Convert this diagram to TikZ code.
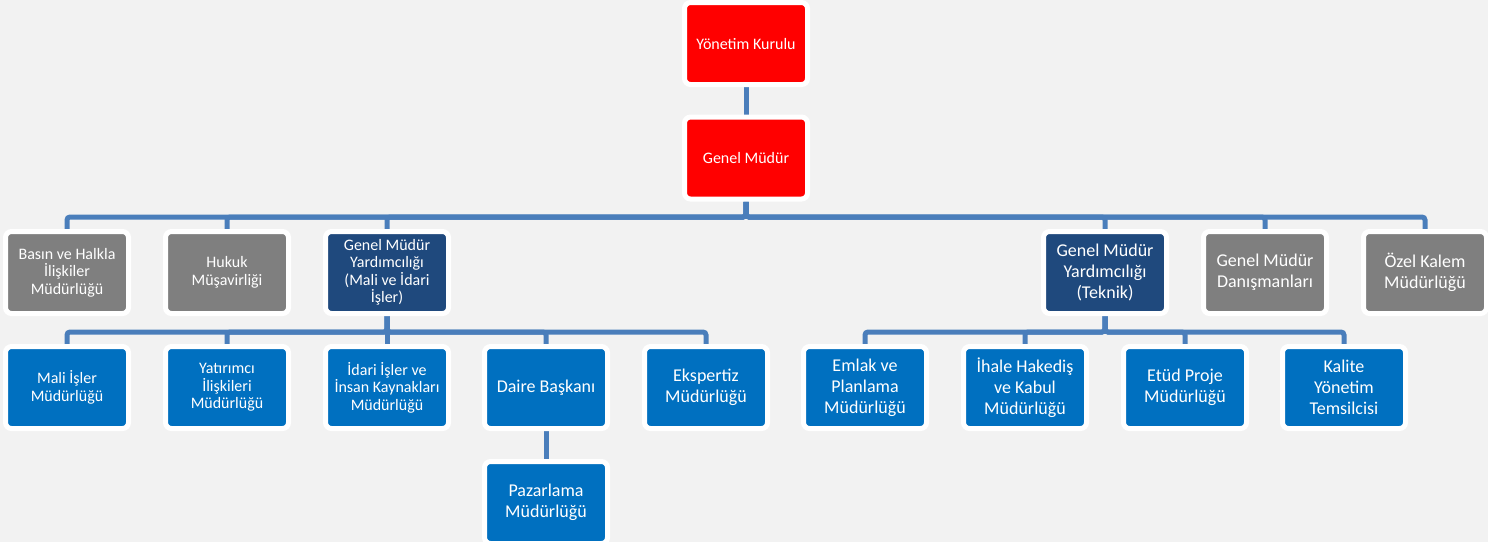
\documentclass[tikz,border=0pt]{standalone}
\usepackage{fontspec}
\setmainfont{Carlito}
\usetikzlibrary{backgrounds}
\definecolor{bgc}{HTML}{F2F2F2}
\definecolor{lineblue}{HTML}{4A7EBB}
\definecolor{redc}{HTML}{FF0000}
\definecolor{grayc}{HTML}{7F7F7F}
\definecolor{navyc}{HTML}{1F497D}
\definecolor{bluec}{HTML}{0070C0}
\begin{document}
\begin{tikzpicture}[x=1pt,y=-1pt,
  box/.style={draw=white,line width=5pt,rounded corners=6pt,minimum width=123pt,minimum height=82pt,inner sep=0pt,align=center,text=white,font=\fontsize{16}{17.5}\selectfont},
  big/.style={font=\fontsize{18}{20.8}\selectfont},
  redbox/.style={box,fill=redc},
  graybox/.style={box,fill=grayc},
  navybox/.style={box,fill=navyc},
  bluebox/.style={box,fill=bluec},
  conn/.style={draw=lineblue,line width=5pt,rounded corners=3pt}]
\useasboundingbox (0,0) rectangle (1488,542);
% top
\node[redbox,font=\fontsize{16}{18}\selectfont] (yk) at (746,43.5) {Yönetim Kurulu};
\node[redbox] (gm) at (746,158) {Genel Müdür};
% row 2
\node[graybox] (b1) at (67,272.5) {Basın ve Halkla\\İlişkiler\\Müdürlüğü};
\node[graybox] (b2) at (227,272.5) {Hukuk\\Müşavirliği};
\node[navybox] (b3) at (387,272.5) {Genel Müdür\\Yardımcılığı\\(Mali ve İdari\\İşler)};
\node[navybox,big] (b4) at (1105,272.5) {Genel Müdür\\Yardımcılığı\\(Teknik)};
\node[graybox,big] (b5) at (1265,272.5) {Genel Müdür\\Danışmanları};
\node[graybox,big] (b6) at (1425,272.5) {Özel Kalem\\Müdürlüğü};
% row 3 left
\node[bluebox] (c1) at (67,387.5) {Mali İşler\\Müdürlüğü};
\node[bluebox] (c2) at (227,387.5) {Yatırımcı\\İlişkileri\\Müdürlüğü};
\node[bluebox] (c3) at (387,387.5) {İdari İşler ve\\İnsan Kaynakları\\Müdürlüğü};
\node[bluebox,big] (c4) at (546,387.5) {Daire Başkanı};
\node[bluebox,big] (c5) at (706,387.5) {Ekspertiz\\Müdürlüğü};
\node[bluebox,big] (pz) at (546,502.5) {Pazarlama\\Müdürlüğü};
% row 3 right
\node[bluebox,big] (d1) at (865,387.5) {Emlak ve\\Planlama\\Müdürlüğü};
\node[bluebox,big] (d2) at (1025,387.5) {İhale Hakediş\\ve Kabul\\Müdürlüğü};
\node[bluebox,big] (d3) at (1185,387.5) {Etüd Proje\\Müdürlüğü};
\node[bluebox,big] (d4) at (1344,387.5) {Kalite\\Yönetim\\Temsilcisi};
\coordinate (bus1) at (0,217);
\coordinate (bus2) at (0,332);
\begin{scope}[on background layer]
\fill[bgc] (0,0) rectangle (1488,542);
\draw[conn] (yk.south) -- (gm.north);
\foreach \c in {b1,b2,b3,b4,b5,b6}
  \draw[conn] (gm.south) -- (gm.south |- bus1) -| (\c.north);
\foreach \c in {c1,c2,c3,c4,c5}
  \draw[conn] (b3.south) -- (b3.south |- bus2) -| (\c.north);
\foreach \c in {d1,d2,d3,d4}
  \draw[conn] (b4.south) -- (b4.south |- bus2) -| (\c.north);
\draw[conn] (c4.south) -- (pz.north);
\end{scope}
\end{tikzpicture}
\end{document}
